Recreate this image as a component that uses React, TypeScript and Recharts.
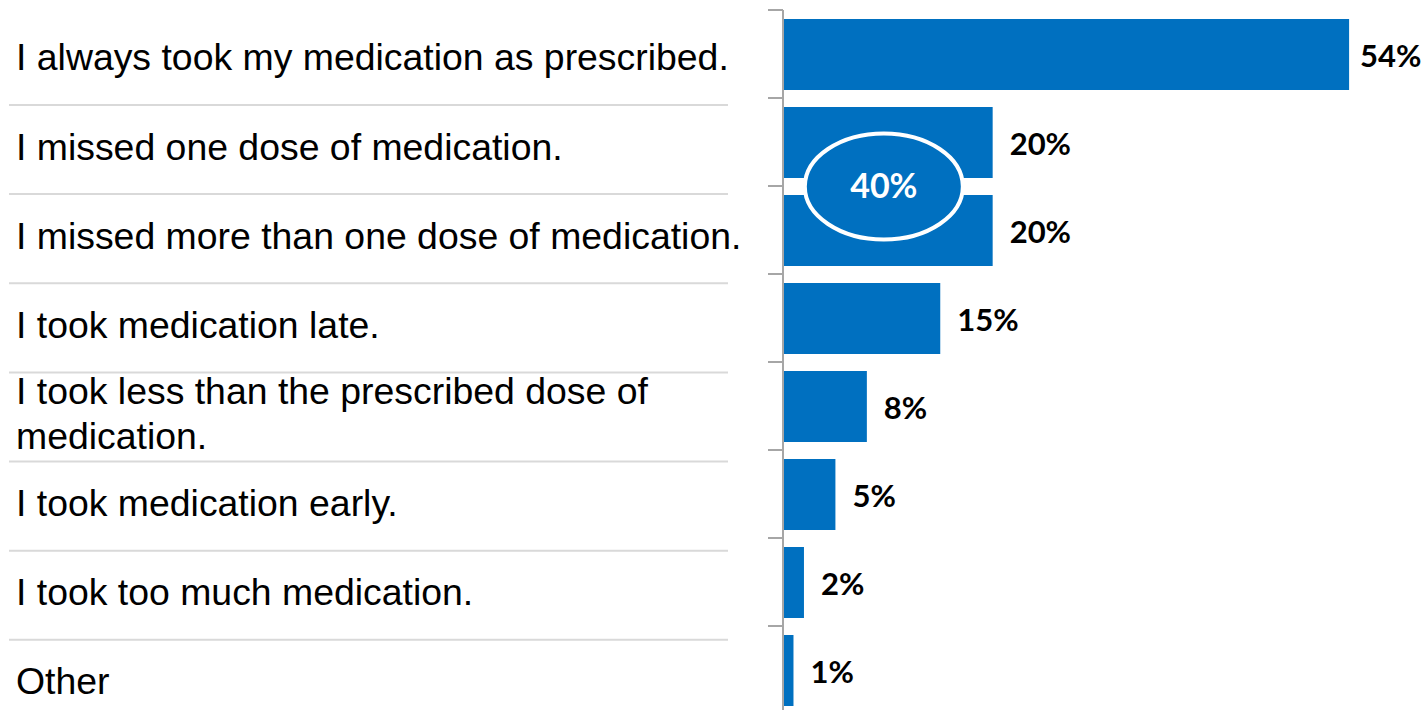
import React from "react";
import { BarChart, Bar, XAxis, YAxis, LabelList } from "recharts";

const categories = [
  "I always took my medication as prescribed.",
  "I missed one dose of medication.",
  "I missed more than one dose of medication.",
  "I took medication late.",
  "I took less than the prescribed dose of\nmedication.",
  "I took medication early.",
  "I took too much medication.",
  "Other",
];
const values = [54, 20, 20, 15, 8, 5, 2, 1];
const valueLabels = ["54%", "20%", "20%", "15%", "8%", "5%", "2%", "1%"];
const groupIndex = [1, 2];
const groupLabel = "40%";

const data = categories.map((c, i) => ({ name: c, value: values[i], label: valueLabels[i] }));

const CHART_W = 1428;
const CHART_H = 714;
const M_TOP = 10;
const M_RIGHT = 16;
const AXIS_W = 783;
const BAND = (CHART_H - M_TOP) / categories.length;
const BAR_SIZE = 71;
const BLUE = "#0070C0";
const LABEL_FONT = "'Liberation Sans', Arial, sans-serif";
const VALUE_FONT = "Lato, 'Open Sans', sans-serif";

const rowY = (v: number) => 5.7 + 1.013 * v;

const YTick = (props: any) => {
  const { y, payload, index } = props;
  const lines = String(payload.value).split("\n");
  const capCenter = rowY(y) - 3;
  const lineH = 45;
  const firstBase = capCenter + 13 - ((lines.length - 1) * lineH) / 2;
  const bottom = y + BAND / 2;
  return (
    <g>
      <line x1={768} x2={AXIS_W} y1={y - BAND / 2} y2={y - BAND / 2} stroke="#A6A6A6" strokeWidth={2} />
      {index < categories.length - 1 && (
        <line x1={9} x2={728} y1={rowY(bottom)} y2={rowY(bottom)} stroke="#D9D9D9" strokeWidth={2} />
      )}
      <text x={16} fontFamily={LABEL_FONT} fontSize={37.4} fill="#000">
        {lines.map((l, i) => (
          <tspan key={i} x={16} y={firstBase + i * lineH}>
            {l}
          </tspan>
        ))}
      </text>
    </g>
  );
};

const ValueLabel = (props: any) => {
  const { x, y, width, height, index } = props;
  const lx = Math.min(x + width + 17, CHART_W - 68);
  return (
    <text
      x={lx}
      y={y + height / 2}
      dominantBaseline="central"
      fontFamily={VALUE_FONT}
      fontWeight="bold"
      fontSize={31}
      fill="#000"
    >
      {valueLabels[index]}
    </text>
  );
};

const GroupLabel = (props: any) => {
  const { x, y, width, height, index } = props;
  if (index !== groupIndex[0]) return null;
  const cx = x + width / 2 - 4;
  const cy = y + height + (BAND - height) / 2;
  return (
    <g>
      <ellipse cx={cx} cy={cy} rx={79} ry={53} fill={BLUE} stroke="#fff" strokeWidth={4} />
      <text
        x={cx}
        y={cy - 2}
        textAnchor="middle"
        dominantBaseline="central"
        fontFamily={VALUE_FONT}
        fontWeight="bold"
        fontSize={34}
        fill="#fff"
      >
        {groupLabel}
      </text>
    </g>
  );
};

export default function App() {
  return (
    <div style={{ position: "fixed", top: 0, left: 0, width: CHART_W, height: 710, overflow: "hidden", background: "#fff" }}>
      <BarChart
        width={CHART_W}
        height={CHART_H}
        data={data}
        layout="vertical"
        margin={{ top: M_TOP, right: M_RIGHT, bottom: 0, left: 0 }}
      >
        <XAxis type="number" domain={[0, 60]} hide />
        <YAxis
          type="category"
          dataKey="name"
          width={AXIS_W}
          axisLine={{ stroke: "#A6A6A6", strokeWidth: 2 }}
          tickLine={false}
          tick={(p: any) => <YTick {...p} />}
          interval={0}
        />
        <Bar dataKey="value" fill={BLUE} barSize={BAR_SIZE} isAnimationActive={false}>
          <LabelList dataKey="value" content={(p: any) => <ValueLabel {...p} />} />
          <LabelList dataKey="value" content={(p: any) => <GroupLabel {...p} />} />
        </Bar>
      </BarChart>
    </div>
  );
}
